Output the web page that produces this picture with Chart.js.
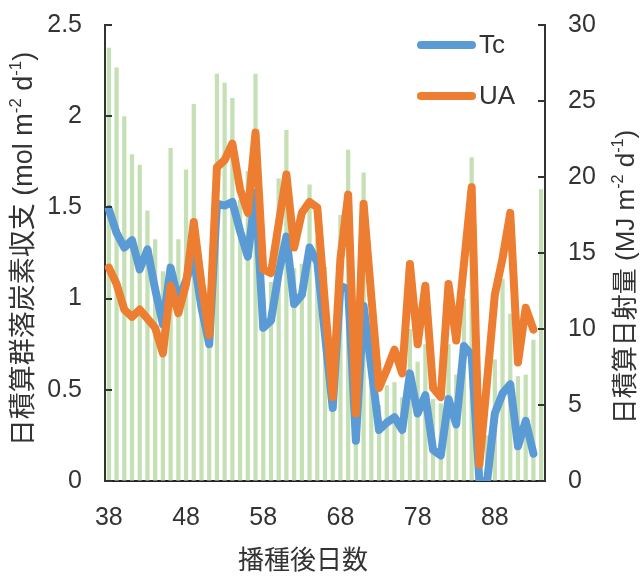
<!DOCTYPE html>
<html>
<head>
<meta charset="utf-8">
<script src="https://cdn.jsdelivr.net/npm/chart.js@4/dist/chart.umd.min.js"></script>
<style>
html,body{margin:0;padding:0;background:#ffffff;}
canvas{display:block;}
</style>
</head>
<body>
<canvas id="c" width="640" height="576"></canvas>
<script>
// ---- data ----
const days = [38,39,40,41,42,43,44,45,46,47,48,49,50,51,52,53,54,55,56,57,58,59,60,61,62,63,64,65,66,67,68,69,70,71,72,73,74,75,76,77,78,79,80,81,82,83,84,85,86,87,88,89,90,91,92,93,94];
const xTickLabels = [38,48,58,68,78,88];
const radiation = [28.5,27.2,24.0,21.5,20.8,17.8,15.9,13.8,21.9,15.9,20.5,24.8,12.0,9.5,26.8,26.2,25.2,18.5,20.4,26.8,12.0,13.1,19.9,23.1,14.0,14.3,19.5,16.0,14.1,5.0,17.5,21.8,3.5,20.3,10.0,5.0,6.3,6.5,5.5,10.0,7.85,9.0,5.4,5.1,9.0,7.0,12.0,21.3,0.8,3.0,8.0,13.3,11.0,6.9,7.0,9.3,19.2];
const tcValues = [1.49,1.36,1.28,1.32,1.16,1.27,1.05,0.86,1.17,0.99,1.10,1.22,0.95,0.75,1.52,1.51,1.53,1.37,1.23,1.58,0.84,0.88,1.14,1.34,0.97,1.02,1.28,1.20,0.80,0.40,1.07,1.05,0.22,0.96,0.62,0.28,0.32,0.35,0.28,0.59,0.37,0.47,0.17,0.14,0.45,0.31,0.74,0.69,0.0,0.0,0.37,0.48,0.53,0.19,0.33,0.15,null];
const uaValues = [1.17,1.08,0.94,0.90,0.94,0.89,0.84,0.70,1.07,0.92,1.08,1.42,1.08,0.80,1.72,1.76,1.85,1.60,1.47,1.91,1.16,1.14,1.41,1.68,1.28,1.47,1.53,1.50,0.97,0.46,1.22,1.57,0.37,1.52,1.01,0.51,0.61,0.72,0.59,1.19,0.75,1.07,0.51,0.46,1.08,0.77,1.19,1.61,0.09,0.55,1.02,1.22,1.47,0.65,0.95,0.83,null];
const seriesNames = ['Tc','UA'];
const radiationName = '日積算日射量';
const xTitle = '播種後日数';
const leftTitle = [['日積算群落炭素収支 (mol m',0],['-2',1],[' d',0],['-1',1],[')',0]];
const rightTitle = [['日積算日射量 (MJ m',0],['-2',1],[' d',0],['-1',1],[')',0]];

const FONT = "'Liberation Sans', 'Noto Sans CJK JP', sans-serif";
const TXT = '#333333';
const AXIS = '#333333';
const BLUE = '#5B9BD5';
const ORANGE = '#ED7D31';
const GREEN = '#C5E0B4';

function drawRich(ctx, segs, size, cx, cy, rot){
  const parts = segs.map(([t,sup]) => {
    const s = sup ? size*0.62 : size;
    ctx.font = s + 'px ' + FONT;
    return {t, sup, s, w: ctx.measureText(t).width};
  });
  const total = parts.reduce((a,p)=>a+p.w,0);
  ctx.save();
  ctx.translate(cx, cy);
  ctx.rotate(rot);
  ctx.fillStyle = TXT;
  ctx.textBaseline = 'middle';
  ctx.textAlign = 'left';
  let x = -total/2;
  parts.forEach(p => {
    ctx.font = p.s + 'px ' + FONT;
    ctx.fillText(p.t, x, p.sup ? -size*0.33 : 0);
    x += p.w;
  });
  ctx.restore();
}

const decor = {
  id: 'decor',
  afterDraw(chart){
    const ctx = chart.ctx;
    const a = chart.chartArea;
    const yL = chart.scales.y, yR = chart.scales.y1;
    ctx.save();
    ctx.strokeStyle = AXIS;
    ctx.lineWidth = 2;
    yL.ticks.forEach(t => {
      const p = Math.round(yL.getPixelForValue(t.value));
      ctx.beginPath(); ctx.moveTo(a.left, p); ctx.lineTo(a.left + 7, p); ctx.stroke();
    });
    yR.ticks.forEach(t => {
      const p = Math.round(yR.getPixelForValue(t.value));
      ctx.beginPath(); ctx.moveTo(a.right - 7, p); ctx.lineTo(a.right, p); ctx.stroke();
    });
    // legend
    const lines = chart.data.datasets.filter(d => d.type === 'line');
    lines.forEach((d, i) => {
      const y = 45 + i * 51;
      ctx.strokeStyle = d.borderColor;
      ctx.lineWidth = 8;
      ctx.lineCap = 'round';
      ctx.beginPath(); ctx.moveTo(421, y); ctx.lineTo(472, y); ctx.stroke();
      ctx.fillStyle = TXT;
      ctx.font = '26px ' + FONT;
      ctx.textBaseline = 'middle';
      ctx.textAlign = 'left';
      ctx.fillText(d.label, 479, y + 1);
    });
    // axis titles
    ctx.fillStyle = TXT;
    ctx.font = '26px ' + FONT;
    ctx.textAlign = 'center';
    ctx.textBaseline = 'middle';
    ctx.fillText(xTitle, 303, 562);
    drawRich(ctx, leftTitle, 27, 25, 249, -Math.PI/2);
    drawRich(ctx, rightTitle, 26, 627, 277, -Math.PI/2);
    ctx.restore();
  }
};

function fmt(v){ return String(Math.round(v * 10) / 10); }

new Chart(document.getElementById('c').getContext('2d'), {
  type: 'bar',
  data: {
    labels: days,
    datasets: [
      {type:'line', label: seriesNames[0], data: tcValues, yAxisID:'y', borderColor: BLUE, backgroundColor: BLUE,
       borderWidth: 8, pointRadius: 0, tension: 0, borderJoinStyle:'round', borderCapStyle:'round', order: 2},
      {type:'line', label: seriesNames[1], data: uaValues, yAxisID:'y', borderColor: ORANGE, backgroundColor: ORANGE,
       borderWidth: 8, pointRadius: 0, tension: 0, borderJoinStyle:'round', borderCapStyle:'round', order: 1},
      {type:'bar', label: radiationName, data: radiation, yAxisID:'y1', backgroundColor: GREEN,
       barPercentage: 0.55, categoryPercentage: 1.0, order: 3}
    ]
  },
  options: {
    responsive: false,
    animation: false,
    devicePixelRatio: 1,
    layout: {padding: {top: 25, left: 0, right: 0, bottom: 0}},
    plugins: {legend: {display: false}, tooltip: {enabled: false}},
    scales: {
      x: {
        grid: {drawOnChartArea: false, drawTicks: false},
        border: {display: true, color: '#222222', width: 2},
        ticks: {autoSkip: false, maxRotation: 0, minRotation: 0, padding: 22, color: TXT,
          font: {family: FONT, size: 25},
          callback: function(v, i){ const d = days[i]; return xTickLabels.includes(d) ? String(d) : ''; }},
        afterFit(s){ s.height = 95; s.paddingLeft = 0; s.paddingRight = 0; }
      },
      y: {
        position: 'left', min: 0, max: 2.5,
        grid: {drawOnChartArea: false, drawTicks: false},
        border: {display: true, color: AXIS, width: 2},
        ticks: {stepSize: 0.5, padding: 23, color: TXT, font: {family: FONT, size: 25}, callback: fmt},
        afterFit(s){ s.width = 105; s.paddingTop = 0; s.paddingBottom = 0; }
      },
      y1: {
        position: 'right', min: 0, max: 30,
        grid: {drawOnChartArea: false, drawTicks: false},
        border: {display: true, color: AXIS, width: 2},
        ticks: {stepSize: 5, padding: 23, color: TXT, font: {family: FONT, size: 25}, callback: fmt},
        afterFit(s){ s.width = 95; s.paddingTop = 0; s.paddingBottom = 0; }
      }
    }
  },
  plugins: [decor]
});
</script>
</body>
</html>
